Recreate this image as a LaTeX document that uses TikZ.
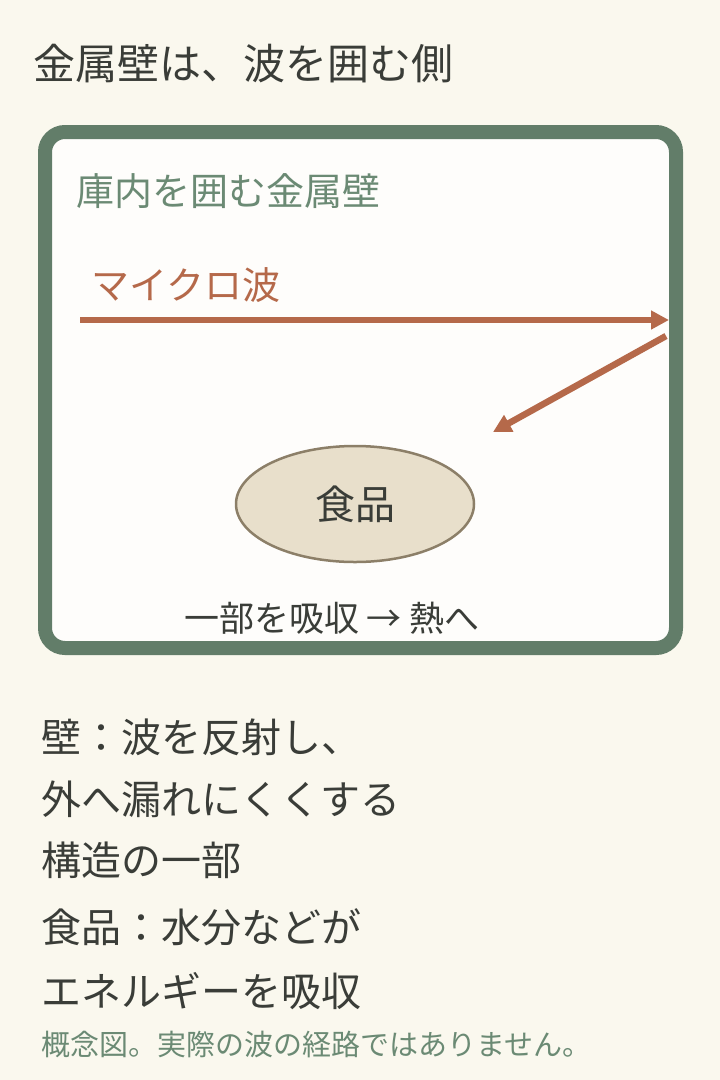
\documentclass[tikz,border=0pt]{standalone}
\usepackage{fontspec}
\setmainfont{Noto Sans CJK JP}
\usepackage{tikz}
\usetikzlibrary{arrows.meta,positioning,shapes.geometric}
\definecolor{bgcream}{HTML}{FAF8EE}
\definecolor{wallgreen}{HTML}{627D69}
\definecolor{labelgreen}{HTML}{6B8A74}
\definecolor{wavebrown}{HTML}{B5694A}
\definecolor{foodfill}{HTML}{E8DFCB}
\definecolor{foodline}{HTML}{8C7F68}
\definecolor{inkdark}{HTML}{3A3D38}
\definecolor{innerwhite}{HTML}{FEFDFB}

\begin{document}
\begin{tikzpicture}[x=1pt,y=-1pt,
  every node/.style={inner sep=0pt,text=inkdark},
  wave/.style={wavebrown,line width=6.5pt,-{Triangle[length=18pt,width=18pt]}}]

  % page and oven wall
  \fill[bgcream] (0,0) rectangle (720,1080);
  \useasboundingbox (0,0) rectangle (720,1080);
  \node[anchor=base west,font=\fontsize{42}{50}\selectfont] (title) at (33,79) {金属壁は、波を囲む側};
  \draw[wallgreen,line width=14pt,fill=innerwhite,rounded corners=20pt]
    (45,132) rectangle (676,648);
  \node[anchor=base west,text=labelgreen,font=\fontsize{38}{45}\selectfont] (walllabel) at (76,205) {庫内を囲む金属壁};

  % microwave in and reflected
  \node[anchor=base west,text=wavebrown,font=\fontsize{38}{45}\selectfont] (wavelabel) at (91,299) {マイクロ波};
  \coordinate (wavein) at (80,320);
  \coordinate (hitwall) at (669,320);
  \coordinate (bounce) at (666,336);
  \coordinate (waveout) at (493,432);
  \draw[wave] (wavein) -- (hitwall);
  \draw[wave] (bounce) -- (waveout);

  % food
  \node[ellipse,draw=foodline,line width=2.5pt,fill=foodfill,minimum width=238pt,minimum height=116pt,
    font=\fontsize{40}{48}\selectfont] (food) at (355,504) {食品};
  \node[anchor=base,font=\fontsize{35}{42}\selectfont] (absorb) at (332,631) {一部を吸収 → 熱へ};

  % notes below
  \foreach \txt/\yy [count=\k] in {壁：波を反射し、/752, 外へ漏れにくくする/814, 構造の一部/875,
      食品：水分などが/942, エネルギーを吸収/1006} {
    \node[anchor=base west,font=\fontsize{40}{48}\selectfont] (line\k) at (41,\yy) {\txt};
  }
  \node[anchor=base west,text=labelgreen,font=\fontsize{29}{35}\selectfont] (footnote) at (41,1055) {概念図。実際の波の経路ではありません。};
\end{tikzpicture}
\end{document}
